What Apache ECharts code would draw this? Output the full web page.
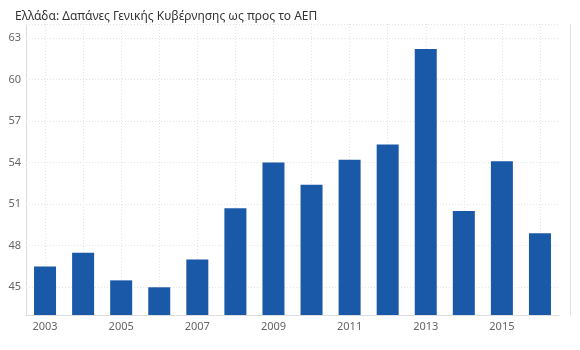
<!DOCTYPE html>
<html>
<head>
<meta charset="utf-8">
<script src="https://cdn.jsdelivr.net/npm/echarts@6/dist/echarts.min.js"></script>
<style>html,body{margin:0;padding:0;background:#fff}#c{width:580px;height:350px}</style>
</head>
<body>
<div id="c"></div>
<script>
const titleText = 'Ελλάδα: Δαπάνες Γενικής Κυβέρνησης ως προς το ΑΕΠ';
const years = ['2003','2004','2005','2006','2007','2008','2009','2010','2011','2012','2013','2014','2015','2016'];
const values = [46.5, 47.5, 45.5, 45.0, 47.0, 50.7, 54.0, 52.4, 54.2, 55.3, 62.2, 50.5, 54.1, 48.9];
const yTickMin = 45, yTickMax = 63, yTickStep = 3;
const yMin = 43, yMax = 64;

const font = 'Noto Sans, sans-serif';
const top1 = 24, bottom1Px = 315;
const h = bottom1Px - top1;
const pxPer = h / (yMax - yMin);
const top2 = top1 + (yMax - yTickMax) * pxPer;
const bottom2 = 350 - (bottom1Px - (yTickMin - yMin) * pxPer);

const chart = echarts.init(document.getElementById('c'), null, {renderer: 'canvas'});
chart.setOption({
  animation: false,
  title: {text: titleText, left: 10, top: 6, textStyle: {fontFamily: font, fontSize: 12, fontWeight: 'normal', color: '#333'}},
  grid: [
    {left: 26, right: 21, top: top1, bottom: 350 - bottom1Px},
    {left: 26, right: 20, top: top2, bottom: bottom2}
  ],
  xAxis: [
    {type: 'category', gridIndex: 0, data: years,
     axisLine: {show: true, lineStyle: {color: '#ddd', width: 1}},
     axisTick: {show: false},
     axisLabel: {interval: 1, color: '#666', fontFamily: font, fontSize: 11, margin: 6},
     splitLine: {show: true, interval: 0, alignWithLabel: true, lineStyle: {color: '#e4e4e4', type: [1, 2]}}},
    {type: 'category', gridIndex: 1, data: years, show: false}
  ],
  yAxis: [
    {type: 'value', gridIndex: 0, min: yMin, max: yMax, interval: yMax - yMin,
     axisLine: {show: true, lineStyle: {color: '#ddd'}}, axisTick: {show: false},
     axisLabel: {show: false},
     splitLine: {show: true, lineStyle: {color: '#e4e4e4', type: [1, 2]}}},
    {type: 'value', gridIndex: 1, min: yTickMin, max: yTickMax, interval: yTickStep,
     axisLine: {show: false}, axisTick: {show: false},
     axisLabel: {color: '#666', fontFamily: font, fontSize: 11, margin: 5},
     splitLine: {show: true, lineStyle: {color: '#e4e4e4', type: [1, 2]}}},
    {type: 'value', gridIndex: 0, position: 'right', offset: 11, min: yMin, max: yMax,
     axisLine: {show: true, lineStyle: {color: '#e2e2e2'}}, axisTick: {show: false},
     axisLabel: {show: false}, splitLine: {show: false}}
  ],
  series: [{
    type: 'bar', xAxisIndex: 0, yAxisIndex: 0, data: values,
    barWidth: 22, itemStyle: {color: '#1a58a8'}
  }]
});
</script>
</body>
</html>
